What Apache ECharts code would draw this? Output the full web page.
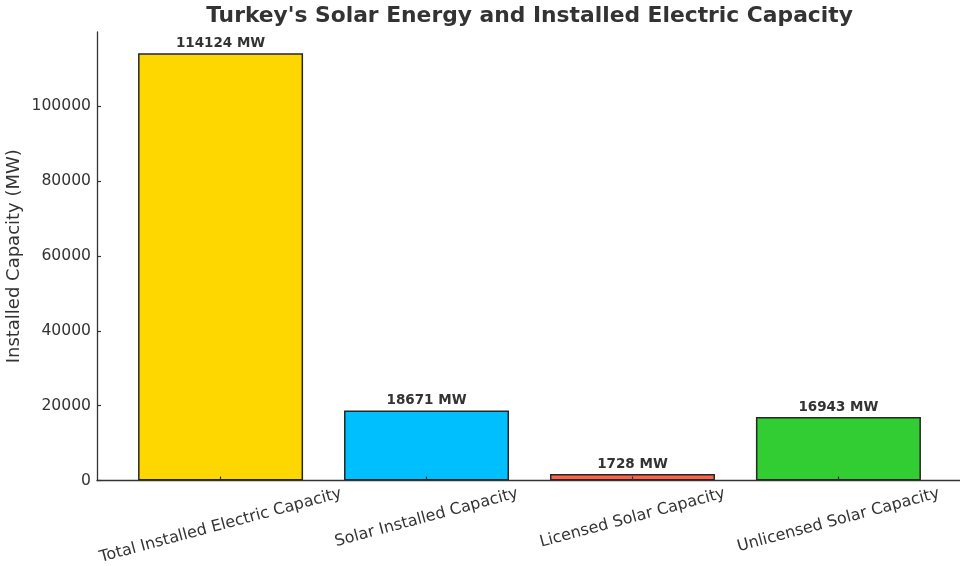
<!DOCTYPE html>
<html>
<head>
<meta charset="utf-8">
<title>Turkey's Solar Energy and Installed Electric Capacity</title>
<script src="https://cdn.jsdelivr.net/npm/echarts@6/dist/echarts.min.js"></script>
<style>
  html, body { margin: 0; padding: 0; background: #fff; }
  #chart { width: 960px; height: 566px; }
</style>
</head>
<body>
<div id="chart"></div>
<script>
// Installed capacity figures (MW)
const categories = [
  'Total Installed Electric Capacity',
  'Solar Installed Capacity',
  'Licensed Solar Capacity',
  'Unlicensed Solar Capacity'
];
const capacityMW = [114124, 18671, 1728, 16943];
const barColors = ['#FFD700', '#00BFFF', '#FF6347', '#32CD32'];
const yTickValues = [0, 20000, 40000, 60000, 80000, 100000];

const FONT = 'DejaVu Sans';
const TEXT = '#333333';
const XLABEL_SIZE = 16;
const YLABEL_SIZE = 15.6;
const TITLE_SIZE = 21.8;
const ROT = 15;

const GRID_LEFT = 97;
const GRID_RIGHT = -2;
const positions = categories.map((_, i) => i);
const yMax = Math.max(...capacityMW) * 1.05;

const ctx = document.createElement('canvas').getContext('2d');

// Rotated tick labels are placed so the top of each rotated box sits
// at the same distance below the axis, centred on its tick.
ctx.font = XLABEL_SIZE + 'px "' + FONT + '"';
const rad = ROT * Math.PI / 180;
const LABEL_MARGIN = 4;
const BOX_TOP = 5;
const rich = {};
categories.forEach((name, i) => {
  const w = ctx.measureText(name).width;
  const boxH = w * Math.sin(rad) + XLABEL_SIZE * Math.cos(rad);
  const D = Math.max(0, BOX_TOP + boxH / 2 - LABEL_MARGIN);
  rich['c' + i] = {
    fontFamily: FONT,
    fontSize: XLABEL_SIZE,
    color: TEXT,
    padding: [2 * D * Math.cos(rad), 2 * D * Math.sin(rad), 0, 0]
  };
});

// Title is centred over the plotting area rather than the whole canvas.
const titleText = "Turkey's Solar Energy and Installed Electric Capacity";
ctx.font = 'bold ' + TITLE_SIZE + 'px "' + FONT + '"';
const titleWidth = ctx.measureText(titleText).width;
const plotCenter = (GRID_LEFT + (960 - GRID_RIGHT)) / 2;

const chart = echarts.init(document.getElementById('chart'), null, { renderer: 'canvas' });

chart.setOption({
  animation: false,
  backgroundColor: '#ffffff',
  title: {
    text: titleText,
    left: plotCenter - titleWidth / 2,
    top: 5,
    padding: 0,
    textStyle: {
      fontFamily: FONT,
      fontSize: TITLE_SIZE,
      fontWeight: 'bold',
      color: TEXT
    }
  },
  grid: {
    left: GRID_LEFT,
    right: GRID_RIGHT,
    top: 32,
    bottom: 85.5,
    containLabel: false,
    outerBoundsMode: 'none'
  },
  xAxis: {
    type: 'value',
    min: -0.6,
    max: 3.6,
    z: 3,
    splitLine: { show: false },
    axisLine: { show: true, onZero: false, lineStyle: { color: TEXT, width: 1.3 } },
    axisTick: {
      show: true,
      inside: true,
      length: 4,
      customValues: positions,
      lineStyle: { color: TEXT, width: 1.2 }
    },
    axisLabel: {
      show: true,
      customValues: positions,
      rotate: ROT,
      margin: LABEL_MARGIN,
      align: 'center',
      verticalAlign: 'middle',
      formatter: v => '{c' + v + '|' + categories[v] + '}',
      rich: rich
    }
  },
  yAxis: {
    type: 'value',
    min: 0,
    max: yMax,
    z: 3,
    name: 'Installed Capacity (MW)',
    nameLocation: 'middle',
    nameGap: 73.5,
    nameMoveOverlap: false,
    nameTextStyle: { fontFamily: FONT, fontSize: 18, color: TEXT },
    splitLine: { show: false },
    axisLine: { show: true, onZero: false, lineStyle: { color: TEXT, width: 1.3 } },
    axisTick: {
      show: true,
      inside: true,
      length: 4,
      customValues: yTickValues,
      lineStyle: { color: TEXT, width: 1.2 }
    },
    axisLabel: {
      customValues: yTickValues,
      margin: 6,
      formatter: v => String(v),
      fontFamily: FONT,
      fontSize: YLABEL_SIZE,
      color: TEXT
    }
  },
  series: [{
    type: 'bar',
    barWidth: 165,
    data: capacityMW.map((v, i) => ({
      value: [positions[i], v],
      itemStyle: { color: barColors[i] }
    })),
    itemStyle: { borderColor: '#262626', borderWidth: 1.5 },
    label: {
      show: true,
      position: 'top',
      distance: 3,
      formatter: p => p.value[1] + ' MW',
      fontFamily: FONT,
      fontSize: 13.5,
      fontWeight: 'bold',
      color: TEXT
    }
  }]
});
</script>
</body>
</html>
